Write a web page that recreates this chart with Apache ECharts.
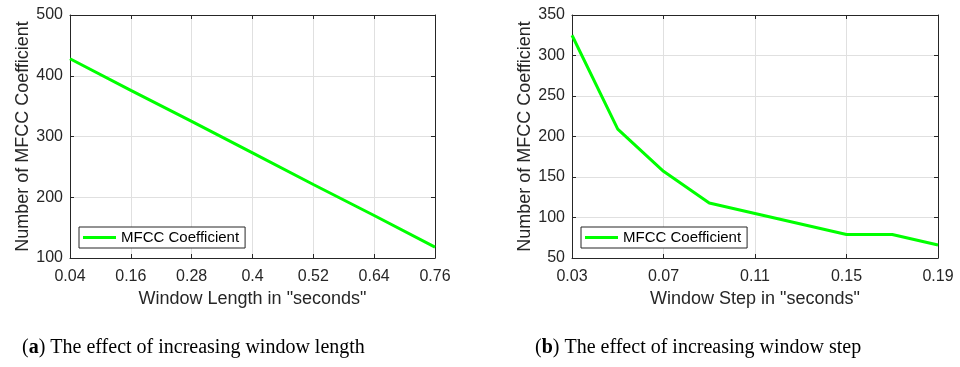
<!DOCTYPE html>
<html>
<head>
<meta charset="utf-8">
<script src="https://cdn.jsdelivr.net/npm/echarts@6/dist/echarts.min.js"></script>
<style>html,body{margin:0;padding:0;background:#fff}#c{width:960px;height:367px}</style>
</head>
<body>
<div id="c"></div>
<script>
// Data
var lengthCats = ['0.04', '0.16', '0.28', '0.4', '0.52', '0.64', '0.76'];
var lengthVals = [428, 376, 325, 273, 221, 170, 118];
var stepCats = ['0.03', '0.05', '0.07', '0.09', '0.11', '0.13', '0.15', '0.17', '0.19'];
var stepVals = [325, 209, 157, 118, 105, 92, 79, 79, 66];
var seriesName = 'MFCC Coefficient';
var xNames = ['Window Length in "seconds"', 'Window Step in "seconds"'];
var yName = 'Number of MFCC Coefficient';
var captions = [['a', ' The effect of increasing window length'], ['b', ' The effect of increasing window step']];

var dark = '#262626';
var gridColor = '#e0e0e0';
var font = 'Liberation Sans, Arial, Helvetica, sans-serif';

var chart = echarts.init(document.getElementById('c'), null, {renderer: 'canvas'});

function xAx(gi, cats, labelInt, pos) {
  var bottom = pos === 'bottom';
  return {
    type: 'category', gridIndex: gi, data: cats, boundaryGap: false, position: pos,
    name: bottom ? xNames[gi] : '', nameLocation: 'middle', nameGap: 31,
    nameTextStyle: {color: dark, fontSize: 18, fontFamily: font},
    axisLine: {show: true, lineStyle: {color: dark, width: 1}},
    axisTick: {show: true, inside: true, length: 4, interval: labelInt, lineStyle: {color: dark}},
    axisLabel: {show: bottom, interval: labelInt, color: dark, fontSize: 16, fontFamily: font, margin: 11},
    splitLine: {show: bottom, interval: labelInt, lineStyle: {color: gridColor, width: 1}}
  };
}
function yAx(gi, mn, mx, iv, pos) {
  var left = pos === 'left';
  return {
    type: 'value', gridIndex: gi, min: mn, max: mx, interval: iv, position: pos,
    name: left ? yName : '', nameLocation: 'middle', nameGap: 33, nameRotate: 90,
    nameTextStyle: {color: dark, fontSize: 18, fontFamily: font},
    axisLine: {show: true, lineStyle: {color: dark, width: 1}},
    axisTick: {show: true, inside: true, length: 4, lineStyle: {color: dark}},
    axisLabel: {show: left, color: dark, fontSize: 16, fontFamily: font, margin: 7},
    splitLine: {show: left, lineStyle: {color: gridColor, width: 1}}
  };
}

function legendAt(x) {
  return {left: x, top: 227, data: [{name: seriesName, icon: 'rect'}], itemWidth: 33, itemHeight: 3,
    borderColor: dark, borderWidth: 1, backgroundColor: '#fff', padding: [3, 6, 3, 4], borderRadius: 0,
    textStyle: {color: '#000', fontSize: 15, fontFamily: font}, selectedMode: false};
}
function caption(x, c) {
  return {type: 'text', left: x, top: 338, style: {text: '({b|' + c[0] + '})' + c[1],
    fill: '#000', font: '20px "Liberation Serif", serif',
    rich: {b: {fontWeight: 'bold', fontSize: 20, fontFamily: 'Liberation Serif', fill: '#000'}}}};
}

chart.setOption({
  animation: false,
  backgroundColor: '#fff',
  grid: [
    {left: 70, top: 15, width: 365, height: 243},
    {left: 572, top: 15, width: 366, height: 243}
  ],
  xAxis: [
    xAx(0, lengthCats, 0, 'bottom'), xAx(0, lengthCats, 0, 'top'),
    xAx(1, stepCats, 1, 'bottom'), xAx(1, stepCats, 1, 'top')
  ],
  yAxis: [
    yAx(0, 100, 500, 100, 'left'), yAx(0, 100, 500, 100, 'right'),
    yAx(1, 50, 350, 50, 'left'), yAx(1, 50, 350, 50, 'right')
  ],
  legend: [legendAt(79), legendAt(581)],
  series: [
    {name: seriesName, type: 'line', xAxisIndex: 0, yAxisIndex: 0, data: lengthVals,
     showSymbol: false, symbol: 'none', lineStyle: {color: '#00ff00', width: 3}, itemStyle: {color: '#00ff00'}},
    {name: seriesName, type: 'line', xAxisIndex: 2, yAxisIndex: 2, data: stepVals,
     showSymbol: false, symbol: 'none', lineStyle: {color: '#00ff00', width: 3}, itemStyle: {color: '#00ff00'}}
  ],
  graphic: [caption(22, captions[0]), caption(535, captions[1])]
});
</script>
</body>
</html>
